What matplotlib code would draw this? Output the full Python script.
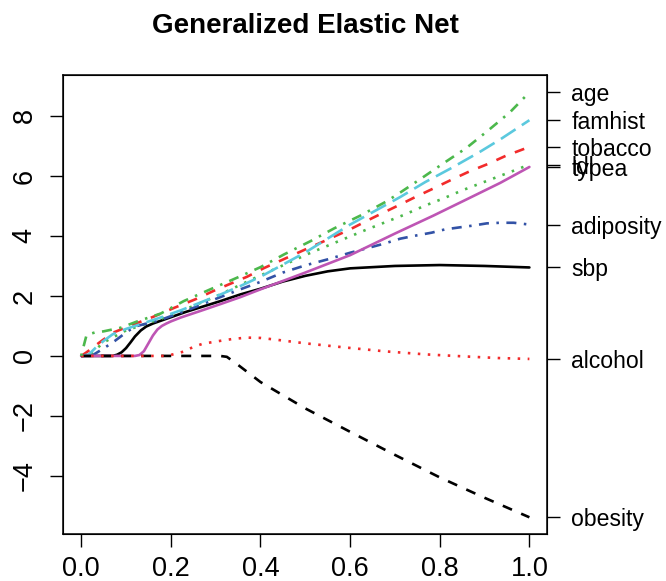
import matplotlib
matplotlib.use("Agg")
import matplotlib.pyplot as plt

plt.rcParams["font.family"] = ["Liberation Sans", "DejaVu Sans"]
plt.rcParams["lines.scale_dashes"] = False

# ---------------------------------------------------------------------------
# coefficient paths (x = fraction of the path)
# ---------------------------------------------------------------------------
sbp_x = [0, 0.07, 0.08, 0.09, 0.1, 0.11, 0.12, 0.133, 0.145, 0.16, 0.177, 0.2,
         0.232, 0.266, 0.311, 0.355, 0.4, 0.45, 0.5, 0.55, 0.6, 0.7, 0.8, 0.9, 1.0]
sbp_y = [0, 0, 0.04, 0.12, 0.26, 0.45, 0.65, 0.85, 0.98, 1.08, 1.17, 1.29,
         1.46, 1.62, 1.83, 2.05, 2.24, 2.48, 2.67, 2.82, 2.92, 3.0, 3.03, 3.0, 2.95]

tobacco_x = [0, 0.01, 0.021, 0.04, 0.05, 0.075, 0.1, 0.16, 0.207, 0.255, 0.3, 0.37,
             0.408, 0.5, 0.538, 0.6, 0.65, 0.712, 0.743, 0.784, 0.827, 0.866,
             0.909, 0.947, 1.0]
tobacco_y = [0, 0.1, 0.22, 0.44, 0.55, 0.8, 0.95, 1.3, 1.6, 1.89, 2.2, 2.64,
             2.93, 3.55, 3.8, 4.22, 4.6, 5.05, 5.28, 5.57, 5.88, 6.15,
             6.41, 6.67, 6.97]

ldl_x = [0, 0.02, 0.05, 0.1, 0.15, 0.2, 0.3, 0.385, 0.512, 0.638, 0.723, 0.765,
         0.808, 0.85, 0.913, 0.957, 1.0]
ldl_y = [0, 0.05, 0.45, 0.85, 1.1, 1.35, 1.98, 2.58, 3.44, 4.22, 4.72, 5.0,
         5.25, 5.52, 5.88, 6.13, 6.38]

adiposity_x = [0, 0.025, 0.05, 0.075, 0.1, 0.12, 0.177, 0.25, 0.3, 0.355, 0.4,
               0.45, 0.5, 0.55, 0.6, 0.675, 0.712, 0.749, 0.782, 0.812, 0.846,
               0.876, 0.905, 0.935, 0.965, 1.0]
adiposity_y = [0, 0.02, 0.25, 0.5, 0.78, 0.98, 1.2, 1.6, 1.9, 2.22, 2.47,
               2.78, 3.02, 3.22, 3.44, 3.74, 3.91, 4.02, 4.11, 4.22, 4.29,
               4.35, 4.42, 4.44, 4.44, 4.38]

famhist_x = [0, 0.017, 0.032, 0.05, 0.07, 0.1, 0.177, 0.222, 0.266, 0.311, 0.355,
             0.4, 0.5, 0.6, 0.712, 0.768, 0.823, 0.888, 0.935, 1.0]
famhist_y = [0, 0.05, 0.27, 0.5, 0.72, 0.9, 1.28, 1.52, 1.78, 2.05, 2.33,
             2.64, 3.45, 4.38, 5.3, 5.8, 6.24, 6.79, 7.22, 7.86]

typea_x = [0, 0.12, 0.13, 0.14, 0.15, 0.16, 0.17, 0.18, 0.19, 0.2, 0.222, 0.266,
           0.311, 0.355, 0.4, 0.45, 0.5, 0.6, 0.7, 0.786, 0.86, 0.935, 1.0]
typea_y = [0, 0, 0.03, 0.16, 0.42, 0.68, 0.88, 1.0, 1.08, 1.15, 1.28, 1.5,
           1.73, 1.96, 2.22, 2.5, 2.78, 3.36, 4.08, 4.68, 5.22, 5.77, 6.3]

obesity_x = [0, 0.31, 0.325, 0.35, 0.4, 0.5, 0.6, 0.7, 0.8, 0.9, 1.0]
obesity_y = [0, 0, -0.03, -0.3, -0.87, -1.75, -2.53, -3.3, -4.05, -4.73, -5.38]

alcohol_x = [0, 0.19, 0.21, 0.23, 0.25, 0.27, 0.3, 0.34, 0.37, 0.4, 0.43, 0.5,
             0.59, 0.68, 0.77, 0.86, 0.93, 1.0]
alcohol_y = [0, 0, 0.07, 0.15, 0.3, 0.4, 0.48, 0.57, 0.61, 0.6, 0.55, 0.42,
             0.28, 0.15, 0.05, -0.02, -0.07, -0.1]

age_x = [0, 0.005, 0.012, 0.03, 0.05, 0.088, 0.125, 0.177, 0.229, 0.288, 0.348,
         0.4, 0.452, 0.512, 0.564, 0.623, 0.682, 0.712, 0.757, 0.808, 0.86,
         0.909, 0.957, 1.0]
age_y = [0, 0.3, 0.7, 0.78, 0.82, 0.94, 1.15, 1.41, 1.83, 2.22, 2.61,
         2.96, 3.38, 3.83, 4.25, 4.68, 5.16, 5.45, 5.9, 6.42, 6.94,
         7.53, 8.13, 8.79]

NAMES = ["sbp", "tobacco", "ldl", "adiposity", "famhist", "typea",
         "obesity", "alcohol", "age"]
PATHS = [(sbp_x, sbp_y), (tobacco_x, tobacco_y), (ldl_x, ldl_y),
         (adiposity_x, adiposity_y), (famhist_x, famhist_y), (typea_x, typea_y),
         (obesity_x, obesity_y), (alcohol_x, alcohol_y), (age_x, age_y)]

# R matplot style: col 1:6, lty 1:5 recycled
COLORS = ["black", "#F22B2B", "#4CB84C", "#3252A6", "#5BC9DE", "#BE55B4"]
LW = 1.9  # pt, ~2.5 px
px = 0.72  # pt per pixel at dpi 100
LTY = [None,                                  # solid
       (0, (10 * px, 10 * px)),               # dashed "44"
       (0, (2.5 * px, 7.5 * px)),             # dotted "13"
       (0, (2.5 * px, 7.5 * px, 10 * px, 7.5 * px)),  # dotdash "1343"
       (0, (17.5 * px, 7.5 * px))]            # longdash "73"

fig = plt.figure(figsize=(6.66, 5.81), dpi=100)
ax = fig.add_axes([0.095, 0.0804, 0.7268, 0.79])

for i, (xs, ys) in enumerate(PATHS):
    ls = LTY[i % 5]
    ax.plot(xs, ys, color=COLORS[i % 6], lw=LW,
            linestyle="-" if ls is None else ls, solid_capstyle="round")

ymin = min(min(p[1]) for p in PATHS)
ymax = max(max(p[1]) for p in PATHS)
pad = 0.04 * (ymax - ymin)
ax.set_xlim(-0.04, 1.04)
ax.set_ylim(ymin - pad, ymax + pad)

ax.set_xticks([0, 0.2, 0.4, 0.6, 0.8, 1.0])
ax.set_xticklabels(["0.0", "0.2", "0.4", "0.6", "0.8", "1.0"])
ax.set_yticks([-4, -2, 0, 2, 4, 6, 8])
ax.tick_params(axis="both", length=9.4, width=1.0, labelsize=19.5)
ax.tick_params(axis="x", pad=6)
ax.tick_params(axis="y", pad=9)
for lab in ax.get_yticklabels():
    lab.set_rotation(90)
    lab.set_va("center")
for s in ax.spines.values():
    s.set_linewidth(1.1)

# variable names at the end of each path, on the right axis
ax2 = ax.twinx()
ax2.set_ylim(ax.get_ylim())
ax2.set_yticks([p[1][-1] for p in PATHS])
ax2.set_yticklabels(NAMES)
ax2.tick_params(axis="y", length=9.4, width=1.0, labelsize=16.6, pad=8)

fig.text(305 / 666, 1 - 26 / 581, "Generalized Elastic Net",
         ha="center", va="center", fontsize=20, fontweight="bold")

fig.savefig("out.png", dpi=100)
